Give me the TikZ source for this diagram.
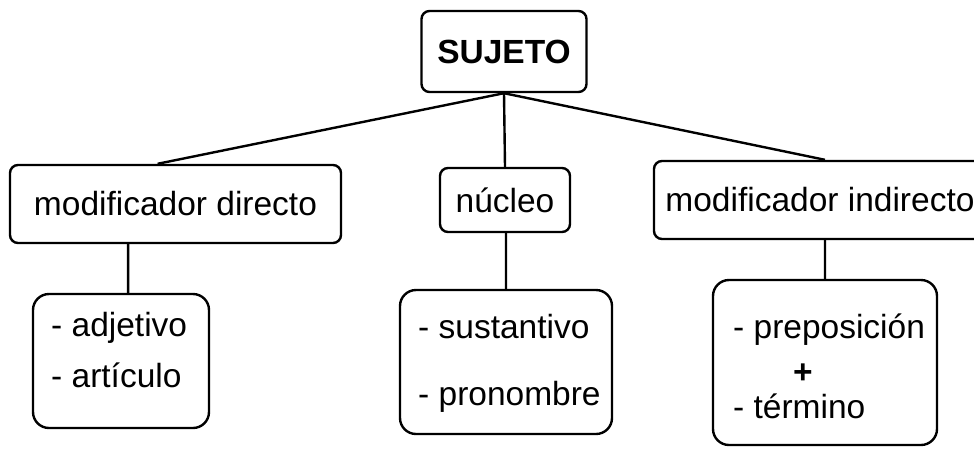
\documentclass[tikz,border=0pt]{standalone}
\usepackage{fontspec}
\setmainfont{Liberation Sans}
\usepackage{tikz}
\usetikzlibrary{positioning}

\begin{document}
\begin{tikzpicture}[x=1pt, y=-1pt, line width=2.4pt,
                    font=\fontsize{33.5}{40}\selectfont,
                    caja/.style={draw, rectangle, rounded corners=8pt, inner sep=0pt},
                    cajagrande/.style={draw, rectangle, rounded corners=16pt, inner sep=0pt},
                    item/.style={anchor=base west, inner sep=0pt}]
                        \useasboundingbox (0,0) rectangle (974,448);
                        % primera fila
                        \node[caja, minimum width=165, minimum height=81] (suj) at (504, 51.5) {\textbf{SUJETO}};
                        \node[caja, minimum width=331, minimum height=78] (md) at (175.5, 204) {modificador directo};
                        \node[caja, minimum width=130, minimum height=64] (nuc) at (505, 200) {núcleo};
                        \node[caja, minimum width=332, minimum height=78] (mi) at (820, 200) {modificador indirecto};
                        % cajas de abajo
                        \node[cajagrande, minimum width=176, minimum height=134] (adj) at (121, 361) {};
                        \node[cajagrande, minimum width=212, minimum height=144] (sus) at (506, 362) {};
                        \node[cajagrande, minimum width=224, minimum height=165] (prep) at (825, 362.5) {};
                        \node[item] (adj1) at (50, 336) {- adjetivo};
                        \node[item] (adj2) at (50, 387) {- artículo};
                        \node[item] (sus1) at (417, 338) {- sustantivo};
                        \node[item] (sus2) at (417, 405) {- pronombre};
                        \node[item] (prep1) at (732, 338) {- preposición};
                        \node[inner sep=0pt] (mas) at (803, 374) {\textbf{+}};
                        \node[item] (prep2) at (732, 418) {- término};
                        \draw
                        (suj.south) -- (md.114)
                        (suj.south) -- (nuc.north)
                        (suj.south) -- (mi.83)
                        (adj.84) -- (adj.84 |- md.south)
                        (sus.north) -- (sus.north |- nuc.south)
                        (prep.north) -- (prep.north |- mi.south);
                    \end{tikzpicture}
\end{document}
